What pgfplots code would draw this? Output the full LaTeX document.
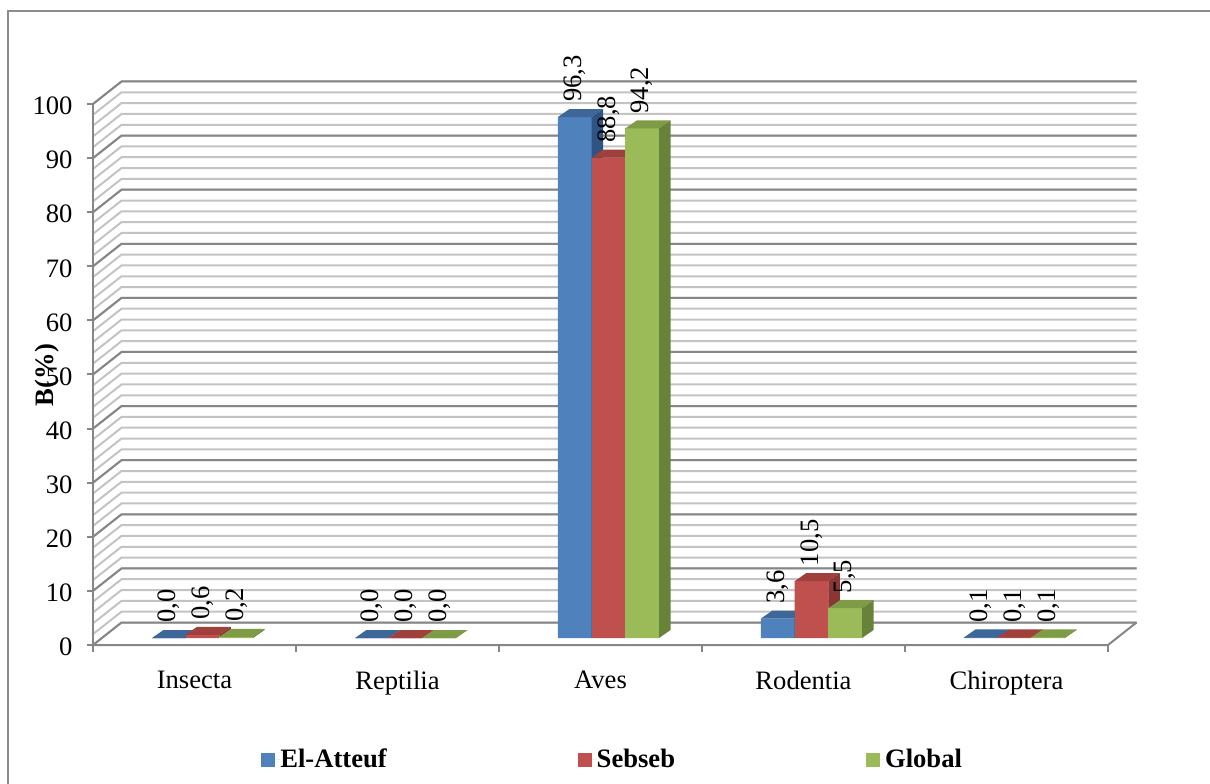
\documentclass[border=0pt]{standalone}
\usepackage{fontspec}
\setmainfont{Liberation Serif}
\usepackage{pgfplots}
\pgfplotsset{compat=1.18}

% series colours: front face, top face, side face
\definecolor{atteuf}{HTML}{4F81BD}
\definecolor{atteufTop}{HTML}{3D6699}
\definecolor{atteufSide}{HTML}{2F5481}
\definecolor{sebseb}{HTML}{C0504D}
\definecolor{sebsebTop}{HTML}{A0403D}
\definecolor{sebsebSide}{HTML}{8A3634}
\definecolor{global}{HTML}{9BBB59}
\definecolor{globalTop}{HTML}{7E9B45}
\definecolor{globalSide}{HTML}{68823A}
\definecolor{gridmajor}{HTML}{868686}
\definecolor{gridminor}{HTML}{C3C3C3}
\definecolor{frame}{HTML}{8C8C8C}

\newcommand\fs{\fontsize{13.3pt}{16pt}\selectfont}

\pgfdeclareplotmark{nothing}{}

% a bar drawn as a box: ybar front face, repainted with its top and side faces
% at the bar top so that later series cover the hidden faces of earlier ones
% #1 front colour, #2 top colour, #3 side colour, #4 horizontal offset of the bar
\pgfplotsset{
  cube/.style n args={4}{
    fill=#1, draw=none,
    scatter, mark=nothing,
    visualization depends on={rawy \as \barval},
    scatter/@pre marker code/.append code={
      \fill[#1] ({#4-8.425pt},0pt) rectangle ({#4+8.425pt},{-\barval*2.705pt});
      \fill[#2] ({#4-8.425pt},0pt) -- ({#4+8.425pt},0pt) -- ({#4+14.175pt},4pt) -- ({#4-2.675pt},4pt) -- cycle;
      \fill[#3] ({#4+8.425pt},0pt) -- ({#4+14.175pt},4pt) -- ({#4+14.175pt},{4pt-\barval*2.705pt}) -- ({#4+8.425pt},{-\barval*2.705pt}) -- cycle;
    },
    legend image code/.code={\fill[#1] (0pt,-3.5pt) rectangle (7pt,3.5pt); \path (0pt,0pt) -- (9.5pt,0pt);},
  }
}

\begin{document}
\begin{tikzpicture}[font=\fs]
\useasboundingbox (0,0) rectangle (605pt,391.5pt);

% frame, walls and floor (1 unit = one pixel of the 1210 x 783 page)
\begin{scope}[x=0.5pt,y=-0.5pt,yshift=391.5pt]
  \draw[frame, line width=1pt] (8,11) rectangle (1240,820);
  % minor grid on side wall and back wall
  \foreach \v in {0,2,...,100}{
    \pgfmathsetmacro\yy{645-5.41*\v}
    \draw[gridminor, line width=1pt] (93,\yy) -- (121.5,\yy-22.5) -- (1136.5,\yy-22.5);
  }
  % major grid
  \foreach \v in {0,10,...,100}{
    \pgfmathsetmacro\yy{645-5.41*\v}
    \draw[gridmajor, line width=1pt] (93,\yy) -- (121.5,\yy-22.5) -- (1136.5,\yy-22.5);
    \draw[gridmajor, line width=1pt] (87,\yy) -- (93,\yy);
  }
  % floor edges and front axes
  \draw[gridmajor, line width=1pt] (93,645) -- (1108,645) -- (1136.5,622.5);
  \draw[gridmajor, line width=1pt] (93,104) -- (93,652);
  \foreach \k in {1,...,5}{
    \draw[gridmajor, line width=1pt] ({93+203*\k},645) -- ({93+203*\k},652);
  }
\end{scope}

\begin{axis}[
  at={(50.5pt,72.5pt)}, anchor=south west,
  x=101.5pt, y=2.705pt,
  xmin=-0.5, xmax=4.5, ymin=0, ymax=100,
  enlargelimits=false, clip=false,
  axis line style={draw=none},
  major tick length=0pt, tick style={draw=none},
  xtick={0,...,4},
  xticklabels={Insecta,Reptilia,Aves,Rodentia,Chiroptera},
  ytick={0,10,...,100},
  /pgf/number format/assume math mode=true,
  tick label style={font=\fs},
  xticklabel style={xshift=-4pt, yshift=-13pt},
  yticklabel style={xshift=-10.75pt, yshift=-4.5pt},
  ylabel={\textbf{B(\%)}},
  every axis y label/.style={at={(axis description cs:-0.0535,0.486)}, rotate=90, anchor=center, font=\fs},
  ybar=0pt, bar width=16.85pt,
  nodes near coords={\pgfmathprintnumber[fixed,fixed zerofill,precision=1,use comma,assume math mode=true]{\pgfplotspointmeta}},
  every node near coord/.append style={font=\fs, black, yshift=4pt, rotate=90, anchor=west},
  legend columns=3,
  legend style={at={(axis description cs:0.1576,-0.2246)}, anchor=west,
    draw=none, fill=none, inner sep=0pt, font=\fs\bfseries,
    nodes={inner sep=0pt},
    /tikz/every even column/.append style={column sep=95.5pt}},
]
\addplot[cube={atteuf}{atteufTop}{atteufSide}{-16.85pt}] coordinates {
  (0,0.0) (1,0.0) (2,96.3) (3,3.6) (4,0.1)};
\addlegendentry{El-Atteuf}
\addplot[cube={sebseb}{sebsebTop}{sebsebSide}{0pt}] coordinates {
  (0,0.6) (1,0.0) (2,88.8) (3,10.5) (4,0.1)};
\addlegendentry{Sebseb}
\addplot[cube={global}{globalTop}{globalSide}{16.85pt}] coordinates {
  (0,0.2) (1,0.0) (2,94.2) (3,5.5) (4,0.1)};
\addlegendentry{Global}
\end{axis}
\end{tikzpicture}
\end{document}
